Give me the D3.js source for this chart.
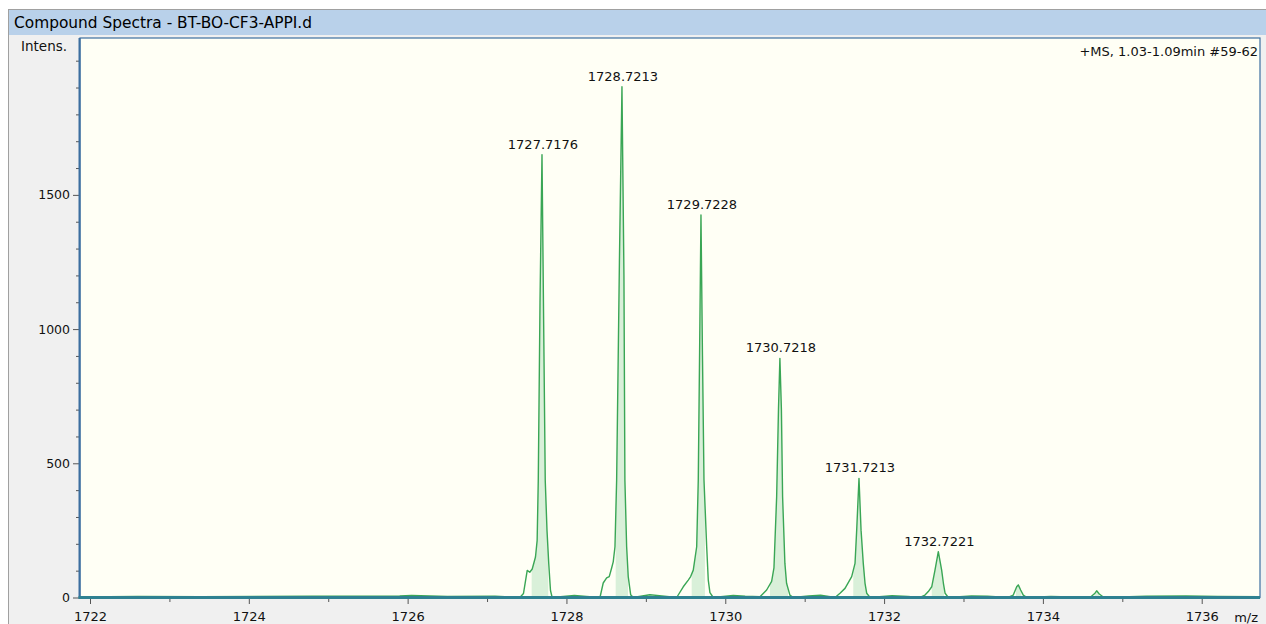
<!DOCTYPE html>
<html>
<head>
<meta charset="utf-8">
<script src="https://cdn.jsdelivr.net/npm/d3@7"></script>
<style>
  html, body { margin: 0; padding: 0; background: #ffffff; }
  svg { display: block; font-family: "DejaVu Sans", sans-serif; }
  .tick text { fill: #111; }
  .tick line { stroke: #555; }
</style>
</head>
<body>
<div id="chart"></div>
<script>
// Window / header texts
var titleText = "Compound Spectra - BT-BO-CF3-APPI.d";
var yAxisTitle = "Intens.";
var xAxisTitle = "m/z";
var scanText = "+MS, 1.03-1.09min #59-62";

// Axis ticks
var xMajorTicks = [1722, 1724, 1726, 1728, 1730, 1732, 1734, 1736];
var xMinorTicks = [1723, 1725, 1727, 1729, 1731, 1733, 1735];
var yMajorTicks = [0, 500, 1000, 1500];
var yMinorTicks = [100, 200, 300, 400, 600, 700, 800, 900, 1100, 1200, 1300, 1400, 1600, 1700, 1800, 1900, 2000];

// Profile spectrum as [m/z, intensity]
var peak1727 = [[1727.413, 0], [1727.459, 15], [1727.506, 101], [1727.538, 94], [1727.569, 106], [1727.610, 151],
  [1727.631, 213], [1727.645, 436], [1727.667, 1100], [1727.692, 1650], [1727.712, 1050], [1727.733, 436],
  [1727.755, 250], [1727.777, 127], [1727.799, 26], [1727.820, 0]];
var peak1728 = [[1728.422, 0], [1728.463, 54], [1728.506, 73], [1728.539, 78], [1728.569, 110], [1728.589, 133],
  [1728.611, 189], [1728.632, 438], [1728.667, 1250], [1728.699, 1903], [1728.724, 1200], [1728.736, 438],
  [1728.758, 189], [1728.778, 78], [1728.809, 10], [1728.841, 0]];
var peak1729 = [[1729.388, 0], [1729.471, 40], [1729.534, 65], [1729.564, 78], [1729.597, 102], [1729.640, 189],
  [1729.660, 438], [1729.678, 950], [1729.694, 1425], [1729.713, 900], [1729.732, 438], [1729.766, 189],
  [1729.786, 65], [1729.807, 18], [1729.849, 0]];
var peak1730 = [[1730.437, 3], [1730.521, 28], [1730.584, 60], [1730.613, 110], [1730.647, 375], [1730.670, 700],
  [1730.688, 891], [1730.707, 700], [1730.722, 375], [1730.751, 127], [1730.772, 53], [1730.814, 9], [1730.856, 0]];
var peak1731 = [[1731.382, 0], [1731.445, 16], [1731.508, 34], [1731.592, 78], [1731.634, 127], [1731.655, 251],
  [1731.684, 444], [1731.710, 251], [1731.738, 127], [1731.760, 53], [1731.781, 16], [1731.823, 0]];
var peak1732 = [[1732.452, 0], [1732.515, 9], [1732.557, 22], [1732.600, 40], [1732.641, 102], [1732.683, 171],
  [1732.725, 102], [1732.747, 53], [1732.768, 16], [1732.810, 0]];
var peak1733 = [[1733.561, 0], [1733.627, 9], [1733.670, 40], [1733.690, 47], [1733.720, 28], [1733.753, 9], [1733.800, 0]];
var peak1734 = [[1734.593, 0], [1734.656, 16], [1734.677, 25], [1734.710, 13], [1734.769, 0]];
var baselineNoise = [[1721.874, 2], [1722.6, 4], [1723.4, 3], [1724.8, 5], [1725.9, 6], [1726.05, 8], [1726.5, 4],
  [1727.1, 5], [1728.1, 8], [1728.25, 4], [1729.05, 10], [1729.2, 6], [1730.1, 8], [1730.25, 5], [1731.05, 6],
  [1731.2, 9], [1732.1, 7], [1732.3, 4], [1733.1, 6], [1733.3, 5], [1734.1, 4], [1735.3, 5], [1735.8, 6],
  [1736.2, 4], [1736.734, 3]];

// Integrated (shaded) ranges and centroid labels
var fillRanges = [[1727.562, 1727.771], [1728.620, 1728.775], [1729.577, 1729.744], [1730.563, 1730.790],
  [1731.612, 1731.781], [1732.600, 1732.754], [1733.660, 1733.730], [1734.650, 1734.710]];
var peakLabels = ["1727.7176", "1728.7213", "1729.7228", "1730.7218", "1731.7213", "1732.7221"];
var labelledPeaks = [peak1727, peak1728, peak1729, peak1730, peak1731, peak1732];

var spectrum = [].concat(peak1727, peak1728, peak1729, peak1730, peak1731, peak1732, peak1733, peak1734, baselineNoise)
  .sort(function(a, b) { return a[0] - b[0]; });

var W = 1266, H = 624;
var plot = {left: 80, right: 1260, top: 38, bottom: 597.5};

var svg = d3.select("#chart").append("svg")
    .attr("width", W)
    .attr("height", H);

// Window frame
svg.append("rect").attr("x", 8.5).attr("y", 9.5).attr("width", W).attr("height", H)
    .attr("fill", "#f0f0f0").attr("stroke", "#a0a0a0");
svg.append("rect").attr("x", 9).attr("y", 10).attr("width", W - 9).attr("height", 25)
    .attr("fill", "#b9d1ea");
svg.append("text")
    .attr("x", 14).attr("y", 28)
    .attr("font-size", "15.4px")
    .attr("fill", "#000")
    .text(titleText);

// Plot background
svg.append("rect")
    .attr("x", plot.left).attr("y", plot.top)
    .attr("width", plot.right - plot.left).attr("height", plot.bottom - plot.top)
    .attr("fill", "#fffff5");

// Scales
var x = d3.scaleLinear().domain([1721.874, 1736.734]).range([plot.left, plot.right]);
var y = d3.scaleLinear().domain([0, 2084.5]).range([plot.bottom, plot.top]);

// Shaded areas under integrated peaks
var defs = svg.append("defs");
fillRanges.forEach(function(r, i) {
  defs.append("clipPath").attr("id", "fill-clip-" + i)
    .append("rect")
      .attr("x", x(r[0])).attr("y", plot.top)
      .attr("width", x(r[1]) - x(r[0])).attr("height", plot.bottom - plot.top);
});

var area = d3.area()
    .x(function(d) { return x(d[0]); })
    .y0(y(0))
    .y1(function(d) { return y(d[1]); });

fillRanges.forEach(function(r, i) {
  svg.append("path")
      .datum(spectrum)
      .attr("clip-path", "url(#fill-clip-" + i + ")")
      .attr("fill", "#d9f0d9")
      .attr("d", area);
});

// Spectrum line
var line = d3.line()
    .x(function(d) { return x(d[0]); })
    .y(function(d) { return y(d[1]); });

svg.append("path")
    .datum(spectrum)
    .attr("fill", "none")
    .attr("stroke", "#3aa655")
    .attr("stroke-width", 1.4)
    .attr("stroke-linejoin", "round")
    .attr("d", line);

// Peak labels
labelledPeaks.forEach(function(pk, i) {
  var top = pk.reduce(function(a, b) { return b[1] > a[1] ? b : a; });
  svg.append("text")
      .attr("x", x(top[0]) + 1)
      .attr("y", y(top[1]) - 6)
      .attr("text-anchor", "middle")
      .attr("font-size", "13px")
      .attr("fill", "#111")
      .text(peakLabels[i]);
});

// Y axis
svg.append("g")
    .attr("transform", "translate(" + (plot.left - 1) + ",0)")
    .call(d3.axisLeft(y).tickValues(yMinorTicks).tickSize(3).tickFormat(""))
    .call(function(g) { g.select(".domain").remove(); });
svg.append("g")
    .attr("transform", "translate(" + (plot.left - 1) + ",0)")
    .call(d3.axisLeft(y).tickValues(yMajorTicks).tickSize(6).tickPadding(3).tickFormat(d3.format("d")))
    .call(function(g) { g.select(".domain").remove(); })
    .selectAll("text").attr("font-family", "DejaVu Sans, sans-serif").attr("font-size", "12.5px");

// X axis
svg.append("g")
    .attr("transform", "translate(0," + (plot.bottom + 1.5) + ")")
    .call(d3.axisBottom(x).tickValues(xMinorTicks).tickSize(3).tickFormat(""))
    .call(function(g) { g.select(".domain").remove(); });
svg.append("g")
    .attr("transform", "translate(0," + (plot.bottom + 1.5) + ")")
    .call(d3.axisBottom(x).tickValues(xMajorTicks).tickSize(5).tickPadding(8).tickFormat(d3.format("d")))
    .call(function(g) { g.select(".domain").remove(); })
    .selectAll("text").attr("font-family", "DejaVu Sans, sans-serif").attr("font-size", "13px");

// Plot borders
svg.append("rect")
    .attr("x", plot.left).attr("y", plot.top)
    .attr("width", plot.right - plot.left).attr("height", plot.bottom - plot.top)
    .attr("fill", "none").attr("stroke", "#3c6fa0").attr("stroke-width", 1.2);
svg.append("line")
    .attr("x1", plot.left - 0.5).attr("x2", plot.left - 0.5)
    .attr("y1", plot.top).attr("y2", plot.bottom + 1)
    .attr("stroke", "#3c6fa0").attr("stroke-width", 2);
svg.append("line")
    .attr("x1", plot.left - 1.5).attr("x2", plot.right)
    .attr("y1", plot.bottom).attr("y2", plot.bottom)
    .attr("stroke", "#2f8191").attr("stroke-width", 3);

// Axis titles and scan info
svg.append("text")
    .attr("x", 21).attr("y", 51)
    .attr("font-size", "13.5px").attr("fill", "#111")
    .text(yAxisTitle);
svg.append("text")
    .attr("x", 1258).attr("y", 622)
    .attr("text-anchor", "end")
    .attr("font-size", "13px").attr("fill", "#111")
    .text(xAxisTitle);
svg.append("text")
    .attr("x", 1258).attr("y", 56)
    .attr("text-anchor", "end")
    .attr("font-size", "13px").attr("fill", "#111")
    .text(scanText);
</script>
</body>
</html>
